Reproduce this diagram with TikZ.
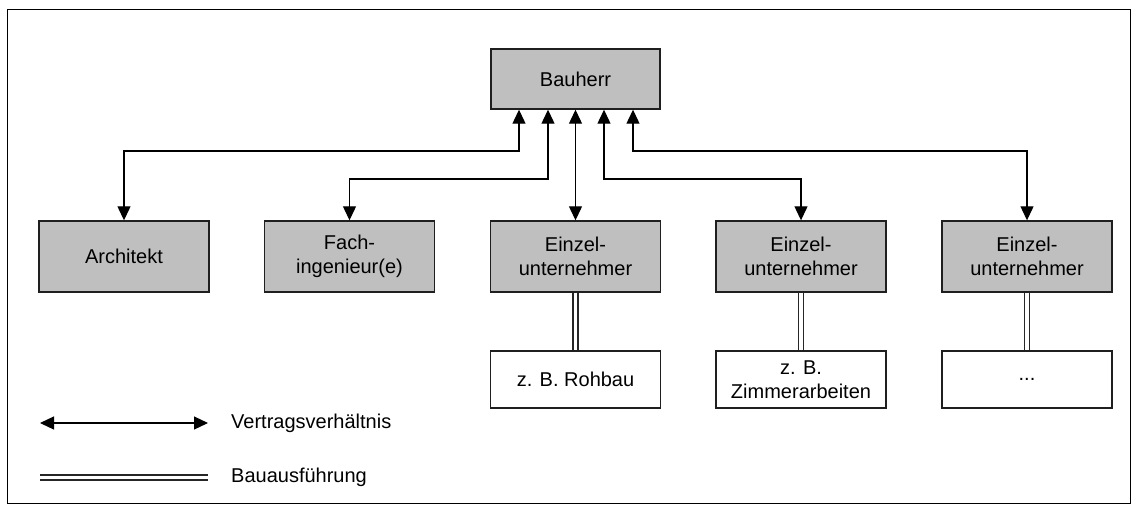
\documentclass[tikz,border=0pt]{standalone}
\usepackage{fontspec}
\setmainfont{Liberation Sans}
\usetikzlibrary{arrows.meta}
\begin{document}
\begin{tikzpicture}[x=1pt,y=-1pt,
  every node/.style={font=\fontsize{20}{24}\selectfont},
  box/.style={draw=black!88, line width=1.4pt, fill=black!25, minimum width=170pt,
    minimum height=71pt, inner sep=0pt, align=center},
  topbox/.style={box, minimum width=169pt, minimum height=60pt},
  workbox/.style={box, fill=white, minimum height=57pt},
  contract/.style={line width=1.2pt, {Triangle[width=13pt,length=14pt]}-{Triangle[width=13pt,length=14pt]}},
  execution/.style={double=white, double distance=3.6pt, line width=1.5pt, draw=black!85},
  legendtext/.style={anchor=west, inner sep=0pt}]
  \useasboundingbox (0,0) rectangle (1131,504);
  \draw[line width=1pt] (7.5,9.5) rectangle (1130,503);

  % principal
  \node[topbox] (bauherr) at (575.5,79) {Bauherr};

  % contract partners
  \node[box] (arch)  at (124,256.5)   {Architekt};
  \node[box] (fach)  at (349.5,256.5) {Fach-\\ingenieur(e)};
  \node[box] (eu1)   at (575.5,256.5) {Einzel-\\unternehmer};
  \node[box] (eu2)   at (801,256.5)   {Einzel-\\unternehmer};
  \node[box] (eu3)   at (1027,256.5)  {Einzel-\\unternehmer};

  % executed works
  \node[workbox] (w1) at (575.5,379.5) {z. B. Rohbau};
  \node[workbox] (w2) at (801,379.5)   {z. B.\\Zimmerarbeiten};
  \node[workbox] (w3) at (1027,379.5)  {...};

  % contract relations
  \draw[contract] (arch.north) -- (arch.north |- 0,151) -| ([xshift=-56.5pt]bauherr.south);
  \draw[contract] (fach.north) -- (fach.north |- 0,179) -| ([xshift=-27.5pt]bauherr.south);
  \draw[contract] (eu1.north) -- (bauherr.south);
  \draw[contract] (eu2.north) -- (eu2.north |- 0,179) -| ([xshift=28.5pt]bauherr.south);
  \draw[contract] (eu3.north) -- (eu3.north |- 0,151) -| ([xshift=57.5pt]bauherr.south);

  % execution links
  \draw[execution] (eu1.south) -- (w1.north);
  \draw[execution] (eu2.south) -- (w2.north);
  \draw[execution] (eu3.south) -- (w3.north);

  % legend
  \coordinate (l1a) at (40,423);
  \coordinate (l1b) at (208,423);
  \coordinate (l2a) at (40,477.5);
  \coordinate (l2b) at (208,477.5);
  \draw[contract] (l1a) -- (l1b);
  \draw[execution] (l2a) -- (l2b);
  \node[legendtext] (lt1) at (231,423) {Vertragsverhältnis};
  \node[legendtext] (lt2) at (231,477.5) {Bauausführung};
\end{tikzpicture}
\end{document}
